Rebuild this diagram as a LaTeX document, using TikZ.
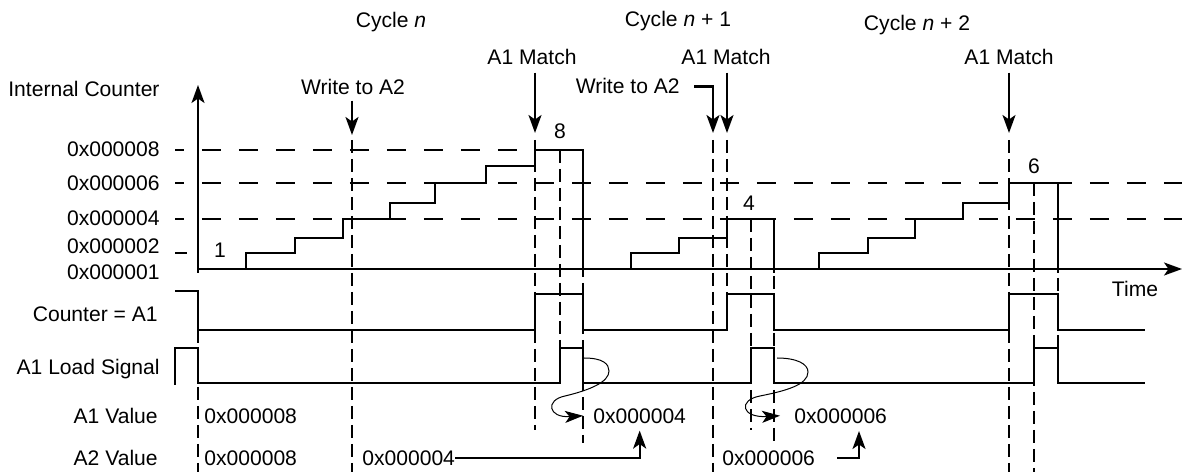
\documentclass[tikz,border=0pt]{standalone}
\usepackage{fontspec}
\setmainfont{Liberation Sans}
\usetikzlibrary{arrows.meta}

\begin{document}
\begin{tikzpicture}[x=0.02cm, y=-0.02cm,
  font=\fontsize{12}{14}\selectfont,
  lbl/.style={inner sep=0pt, anchor=base},
  lbll/.style={inner sep=0pt, anchor=base east},
  lblr/.style={inner sep=0pt, anchor=base west},
  sig/.style={line width=0.45mm},
  vdash/.style={line width=0.45mm, dash pattern=on 2.6mm off 1.2mm},
  hdash/.style={line width=0.45mm, dash pattern=on 3.8mm off 3.6mm, dash phase=2mm},
  arr/.style={line width=0.45mm, -{Stealth[length=3.6mm, width=2.6mm, inset=0.9mm]}},
  loadarr/.style={line width=0.2mm, -{Stealth[length=3.6mm, width=2.4mm, inset=0.9mm]}}]

  \useasboundingbox (0,0) rectangle (1182,472);

  \node[lbl] (cyc1) at (391,28) {Cycle \textit{n}};
  \node[lbl] (cyc2) at (678,27) {Cycle \textit{n} + 1};
  \node[lbl] (cyc3) at (917,31) {Cycle \textit{n} + 2};
  \node[lbl] (match1) at (532,65) {A1 Match};
  \node[lbl] (match2) at (726,65) {A1 Match};
  \node[lbl] (match3) at (1009,65) {A1 Match};
  \node[lbl] (write1) at (353,95) {Write to A2};
  \node[lbll] (write2) at (680,94) {Write to A2};
  \node[lblr] (yname) at (8,97) {Internal Counter};

  \node[lbll] (c8) at (160,157) {0x000008};
  \node[lbll] (c6) at (160,191) {0x000006};
  \node[lbll] (c4) at (160,226) {0x000004};
  \node[lbll] (c2) at (160,254) {0x000002};
  \node[lbll] (c1) at (160,280) {0x000001};
  \node[lbll] (cmp) at (158,322) {Counter = A1};
  \node[lbll] (load) at (160,375) {A1 Load Signal};
  \node[lbll] (a1) at (158,423) {A1 Value};
  \node[lbll] (a2) at (158,465) {A2 Value};

  \node[lblr] (v1a) at (204,423) {0x000008};
  \node[lblr] (v1b) at (593,423) {0x000004};
  \node[lblr] (v1c) at (794,423) {0x000006};
  \node[lblr] (v2a) at (204,465) {0x000008};
  \node[lblr] (v2b) at (362,465) {0x000004};
  \node[lblr] (v2c) at (722,465) {0x000006};
  \node[lbl] (time) at (1135,297) {Time};
  \node[lbl] (n1) at (220,258) {1};
  \node[lbl] (n8) at (560,139) {8};
  \node[lbl] (n4) at (749,211) {4};
  \node[lbl] (n6) at (1034,174) {6};

  \draw[hdash] (175,150) -- (535,150);
  \draw[hdash] (175,183) -- (1182,183);
  \draw[hdash] (175,219) -- (1182,219);
  \draw[sig] (175,253) -- (187,253);

  \foreach \x/\ya/\yb in {198/330/472, 352/140/472, 535/140/430, 560/150/348,
      583/150/443, 713/140/472, 727/140/330, 751/219/430, 774/219/443,
      1009/140/472, 1034/183/472, 1058/183/383}
    \draw[vdash] (\x,\ya) -- (\x,\yb);

  \coordinate (wtip1) at (352,135);
  \coordinate (mtip1) at (535,133);
  \coordinate (wtip2) at (713,133);
  \coordinate (mtip2) at (727,133);
  \coordinate (mtip3) at (1009,133);
  \draw[arr, shorten <=1mm] (write1.south -| wtip1) -- (wtip1);
  \draw[arr, shorten <=1.4mm] (match1.south -| mtip1) -- (mtip1);
  \draw[arr, shorten <=1.4mm] (match2.south -| mtip2) -- (mtip2);
  \draw[arr, shorten <=1.4mm] (match3.south -| mtip3) -- (mtip3);
  \draw[arr] ([xshift=2.8mm]write2.east) -| (wtip2);

  \draw[arr] (198,273) -- (198,85);
  \draw[arr] (198,269) -- (1182,269);

  \draw[sig] (246,269) |- (295,253) |- (343,238) |- (390,219) |- (435,203) |- (486,183) |- (535,166) |- (583,150) -- (583,273);
  \draw[sig] (631,269) |- (679,253) |- (727,238) |- (774,219) -- (774,273);
  \draw[sig] (819,269) |- (868,253) |- (915,238) |- (963,219) |- (1009,203) |- (1058,183) -- (1058,273);

  \draw[sig] (175,291) -| (198,330) -| (535,294) -| (583,330) -| (727,294) -| (774,330) -| (1009,294) -| (1058,330) -- (1145,330);
  \draw[sig] (175,385) |- (198,348) -- (198,383) -| (560,348) -| (583,383) -| (751,348) -| (774,383) -| (1034,348) -| (1058,383) -- (1145,383);

  \draw[loadarr] (584,358) .. controls (603,358) and (609,364) .. (609,371) .. controls (609,382) and (590,390) .. (565,396) .. controls (545,400) and (548,418) .. ([xshift=-2mm]v1b.west);
  \draw[loadarr] (777,358) .. controls (797,358) and (808,364) .. (808,372) .. controls (808,385) and (785,391) .. (760,396) .. controls (738,400) and (741,418) .. ([xshift=-2.8mm]v1c.west);

  \coordinate (up2) at (859,431);
  \draw[arr] (v2b.east) -| ([yshift=-1.4mm]v1b.south);
  \draw[arr] ([xshift=4.4mm]v2c.east) -| (up2);

\end{tikzpicture}
\end{document}
